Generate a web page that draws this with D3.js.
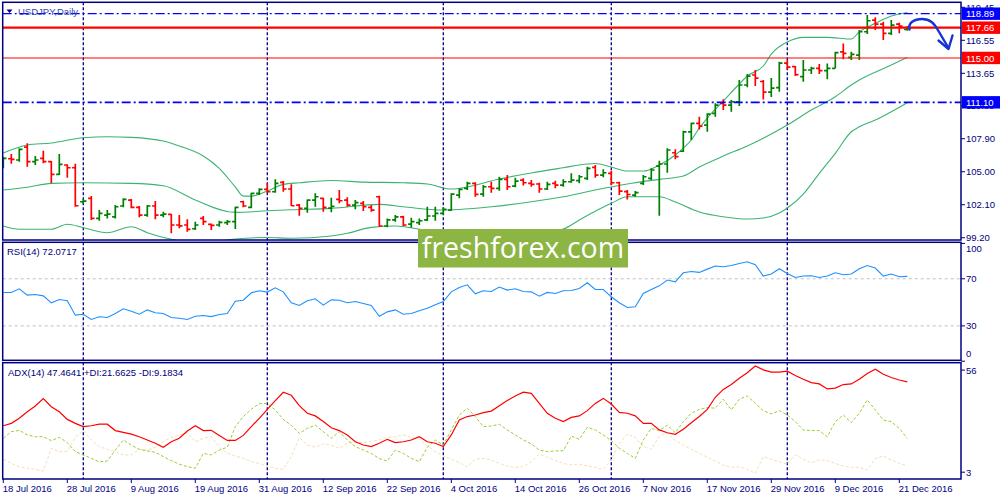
<!DOCTYPE html>
<html>
<head>
<meta charset="utf-8">
<script src="https://cdn.jsdelivr.net/npm/d3@7"></script>
<style>
  body { margin: 0; background: #fff; }
  svg { display: block; font-family: "Liberation Sans", Arial, sans-serif; }
</style>
</head>
<body>
<div class="chart"></div>
<script>
// ---- data ----
const xLabels = ["18 Jul 2016","28 Jul 2016","9 Aug 2016","19 Aug 2016","31 Aug 2016","12 Sep 2016",
  "22 Sep 2016","4 Oct 2016","14 Oct 2016","26 Oct 2016","7 Nov 2016","17 Nov 2016","29 Nov 2016",
  "9 Dec 2016","21 Dec 2016"];
const labelEvery = 8;                       // one date label every 8 bars
const separatorBars = [10, 33, 55, 76, 98]; // first bar of Aug, Sep, Oct, Nov, Dec

const open = [
105.85,106.14,106.03,107.17,105.88,106.18,105.88,104.77,105.59,105.35,
102.36,102.66,100.90,101.19,101.04,101.99,102.51,101.87,101.19,101.99,
101.19,101.26,100.32,100.32,99.99,100.90,100.38,100.32,100.52,100.61,
102.36,101.87,103.10,103.45,103.24,104.07,103.48,102.07,101.78,102.51,
102.66,101.80,102.57,102.51,102.07,102.22,101.87,102.80,100.23,100.76,
101.04,100.40,100.52,100.76,101.11,101.34,101.63,102.95,103.54,103.98,
103.04,103.68,103.54,104.33,103.74,104.27,103.98,103.92,103.48,103.98,
103.83,104.12,104.21,104.42,105.39,104.71,104.86,104.03,103.26,102.95,
103.98,104.42,105.50,105.68,106.67,106.80,108.51,109.25,109.10,110.13,
111.01,110.86,111.15,112.62,113.50,112.93,112.00,112.40,114.55,114.23,
113.35,113.94,114.09,113.88,114.09,115.54,115.05,115.25,117.30,118.33,
117.98,117.16,117.98,117.51];
const high = [
106.32,106.55,107.06,107.50,106.38,106.84,105.94,106.55,105.65,105.70,
102.60,102.86,101.63,101.63,102.07,102.66,102.60,101.99,102.07,102.42,
101.49,101.28,101.19,100.82,100.61,101.11,100.46,100.69,100.76,101.92,
102.45,103.15,103.54,103.98,104.33,104.18,103.89,102.16,102.57,103.10,
102.72,102.72,103.39,102.75,102.51,102.42,102.07,102.89,100.90,101.19,
101.13,100.96,100.90,101.92,101.92,101.87,103.10,103.54,104.12,104.07,
103.83,104.12,104.56,104.71,104.47,104.42,104.27,104.03,104.12,104.21,
104.33,104.86,104.71,105.44,105.59,105.21,105.09,104.12,103.39,103.30,
104.71,105.30,105.97,107.06,106.97,108.60,109.31,109.83,110.13,111.01,
111.36,111.30,113.06,113.59,113.94,113.06,113.23,114.66,114.81,114.29,
114.81,114.23,114.46,114.52,115.54,116.28,115.54,117.45,118.77,118.57,
118.18,118.33,118.09,117.80];
const low = [
105.30,105.70,105.88,105.44,105.59,105.74,103.98,104.71,104.47,101.92,
102.16,100.76,100.69,100.90,100.90,101.87,101.78,100.99,101.04,100.82,
100.99,99.59,100.03,99.73,99.88,100.32,99.88,100.17,100.32,99.96,
101.87,101.78,102.95,103.10,103.15,103.24,101.99,101.13,101.40,101.92,
101.49,101.43,102.22,101.92,101.70,101.55,101.49,100.17,100.11,100.61,
100.23,100.08,100.32,100.67,100.69,101.19,101.57,102.66,103.39,102.80,
102.80,103.15,103.33,103.39,103.63,103.80,103.68,103.15,103.39,103.54,
103.68,104.03,103.98,104.27,104.47,104.51,103.83,102.95,102.57,102.80,
103.83,104.27,101.13,104.91,106.09,106.74,107.79,108.72,108.51,109.83,
110.42,110.27,110.77,112.42,112.53,111.34,111.56,112.03,113.98,113.41,
112.91,113.59,113.59,113.12,114.09,114.88,114.81,114.81,117.10,117.45,
116.57,117.01,117.16,117.39];
const close = [
106.18,106.09,106.97,105.88,106.03,105.88,104.77,105.65,105.35,102.01,
102.42,100.90,101.34,101.28,101.92,102.57,101.87,101.19,101.99,101.19,
101.28,100.32,100.25,99.94,100.32,100.61,100.29,100.55,100.61,101.87,
101.99,103.10,103.45,103.24,103.98,103.48,102.01,101.78,102.51,102.80,
101.87,101.95,102.45,102.07,102.28,101.92,101.63,100.23,100.76,101.04,
100.32,100.61,100.69,101.11,101.34,101.70,103.04,103.45,103.98,103.01,
103.68,103.54,104.33,103.68,104.18,104.03,103.89,103.48,103.89,103.83,
104.12,104.27,104.56,105.30,104.71,104.91,104.03,103.30,103.00,103.17,
104.56,105.15,105.68,106.91,106.32,108.51,109.25,109.01,110.07,110.86,
110.86,111.15,112.62,113.41,113.23,112.00,112.35,114.55,114.20,113.54,
113.94,114.09,113.88,114.09,115.46,115.40,115.32,117.30,118.27,117.98,
117.16,117.89,117.80,117.60];

// Bollinger bands: [bar, price] vertices
const bbUpper = [[0,106.64],[3,107.35],[6,107.52],[10,107.99],[13,108.07],[16,108.02],[20,107.70],
  [22,107.26],[25,106.38],[27,105.30],[29,103.66],[30,102.86],[31,102.86],[33,103.30],[35,103.89],
  [37,104.03],[41,104.23],[45,104.09],[50,104.03],[53,103.92],[56,103.48],[58,103.66],[62,104.36],
  [66,104.89],[70,105.35],[73,105.68],[74,105.72],[76,105.41],[78,105.06],[80,105.06],[82,105.59],
  [84,106.47],[85,107.08],[86,107.79],[87,108.84],[88,109.72],[90,111.21],[92,112.71],[93,113.41],
  [95,114.29],[96,115.34],[98,116.40],[100,116.81],[103,116.81],[106,116.66],[107,117.30],
  [109,118.04],[111,118.68],[113,119.00]];
const bbMiddle = [[0,103.39],[3,103.63],[6,103.98],[10,104.03],[16,103.98],[20,103.77],[24,102.51],
  [29,101.43],[33,101.57],[36,101.66],[41,101.78],[47,102.13],[50,101.92],[55,101.63],[57,101.68],
  [61,101.92],[66,102.36],[70,102.80],[74,103.39],[78,103.92],[82,104.33],[85,104.62],[87,105.41],
  [90,106.38],[93,107.26],[96,108.31],[98,109.10],[101,110.42],[104,111.59],[106,112.62],
  [107,113.06],[111,114.38],[113,115.05]];
const bbLower = [[0,100.23],[2,99.94],[6,99.94],[8,100.38],[10,100.08],[13,99.64],[16,100.17],
  [18,99.64],[21,99.06],[25,98.73],[29,99.09],[33,99.22],[36,99.15],[41,99.35],[43,99.59],
  [46,100.11],[49,100.23],[52,99.94],[55,99.52],[60,99.35],[66,99.52],[70,99.96],[72,100.76],
  [76,102.22],[78,102.80],[82,102.80],[84,102.34],[87,101.46],[90,101.04],[93,100.84],[95,100.93],
  [97,101.37],[98,101.81],[100,103.04],[102,104.86],[104,106.62],[106,108.51],[107,108.95],
  [109,109.54],[111,110.27],[113,111.06]];

const rsi = [
58.4,58.4,61.5,56.1,56.7,55.5,49.6,52.4,51.3,39.1,
39.9,35.4,37.7,37.1,40.5,44.5,42.5,39.9,43.6,41.1,
40.5,37.1,36.5,35.4,38.2,38.8,37.9,39.6,40.5,51.0,
51.8,58.1,59.8,58.7,62.3,58.9,49.6,47.3,51.3,53.0,
47.6,52.1,51.8,49.6,50.7,49.0,47.3,38.2,41.9,43.6,
39.9,40.5,42.8,45.0,47.9,50.7,58.9,62.6,64.9,57.2,
59.8,59.2,63.0,60.4,61.5,59.2,58.9,55.2,58.4,57.5,
59.8,60.1,61.8,66.6,60.9,60.9,54.7,49.6,45.6,46.2,
57.5,60.9,64.0,68.9,67.4,75.1,76.2,75.4,78.2,80.8,
80.2,81.3,83.0,84.5,81.9,72.3,74.0,78.5,74.5,71.1,
72.3,72.6,71.1,72.3,75.1,73.4,74.0,78.5,81.3,79.1,
72.3,74.0,71.7,72.07];

const adx = [
27.4,28.5,30.8,33.8,36.4,39.8,36.1,33.8,30.3,28.5,
27.0,27.4,28.1,28.1,25.2,24.4,23.6,22.4,20.9,19.4,
17.6,20.1,21.7,25.0,27.4,25.2,25.3,23.0,20.7,20.7,
23.0,27.0,30.8,34.9,38.9,42.7,41.3,36.6,33.1,31.9,
29.3,26.5,25.2,23.2,20.1,18.6,17.9,19.4,21.2,19.7,
20.1,20.9,22.4,20.1,19.4,17.9,23.2,30.0,31.6,32.3,
33.4,34.1,36.5,38.9,41.0,42.7,42.2,37.6,33.1,30.8,
29.3,31.2,31.9,34.3,37.6,39.9,37.3,33.5,33.1,31.9,
28.5,28.5,25.5,24.2,23.5,25.8,28.8,31.6,34.9,40.4,
44.0,46.2,49.1,51.6,54.7,52.9,51.9,51.9,52.3,50.3,
48.6,47.1,46.5,44.2,44.6,46.2,46.5,48.6,51.3,53.2,
50.9,49.4,48.3,47.46];
const plusDi = [
21.7,24.7,25.3,23.2,22.4,22.4,20.6,22.1,19.7,15.6,
14.1,12.5,10.9,11.3,16.3,20.9,18.6,16.6,15.9,15.3,
13.3,11.5,9.9,8.7,8.0,14.8,14.1,16.3,17.6,27.0,
31.6,34.9,37.5,37.6,34.6,30.3,27.6,23.9,26.2,27.7,
24.7,21.7,24.7,20.9,17.9,16.3,14.8,12.4,11.3,16.3,
14.8,12.5,11.0,17.6,20.9,18.6,25.5,32.3,35.4,31.6,
27.0,27.3,28.1,25.5,23.2,20.9,19.1,16.3,15.6,15.9,
16.0,22.7,21.2,26.7,25.5,23.2,20.6,17.1,14.8,12.5,
20.9,26.2,25.2,27.7,24.2,29.3,33.1,34.9,35.7,35.4,
39.5,34.6,39.5,41.0,37.6,34.3,32.8,34.3,32.3,29.3,
25.5,25.2,25.2,22.4,29.3,32.3,28.8,33.1,39.2,34.6,
30.0,29.3,26.2,21.66];
const minusDi = [
12.1,10.2,8.7,8.0,7.5,6.7,17.1,15.6,15.6,22.1,
25.2,20.9,17.9,16.6,15.6,14.1,14.1,16.6,16.3,17.6,
20.1,22.1,23.2,24.2,20.1,21.7,22.4,17.6,14.8,13.6,
12.5,11.0,10.2,9.0,8.0,7.5,13.3,22.1,18.6,17.6,
19.1,18.6,17.1,19.4,20.1,19.7,20.3,20.9,22.1,22.4,
23.2,22.1,21.2,18.2,15.6,13.6,12.1,10.5,8.7,12.1,
12.5,11.8,10.2,9.0,8.4,8.7,11.0,14.4,13.0,11.5,
10.2,9.5,9.9,9.0,8.4,7.5,11.8,19.4,23.6,22.1,
17.9,16.6,22.7,24.2,20.6,18.6,16.6,14.8,13.0,11.3,
9.3,8.4,8.7,7.5,5.7,13.3,12.1,11.0,9.8,14.1,
12.1,10.5,11.8,11.5,10.2,9.0,8.4,8.4,7.2,12.4,
13.6,11.8,10.2,9.18];

const priceTicks = [119.45, 116.55, 113.65, 110.80, 107.90, 105.00, 102.10, 99.20];
const rsiTicks = [100, 70, 30, 0];
const rsiLevels = [70, 30];
const adxTicks = [56, 3];
const levelValues = [118.89, 117.66, 115.00, 111.10]; // horizontal lines drawn on the chart

// ---- layout ----
const width = 1000, height = 500;
const left = 2.7, right = 961;
const main = {top: 2.3, bottom: 240};
const rsiP = {top: 242.3, bottom: 360.3};
const adxP = {top: 362.7, bottom: 479};
const navy = "#000080";

const svg = d3.select('.chart').append('svg')
  .attr('width', width).attr('height', height)
  .attr('viewBox', [0, 0, width, height]);

const x = d3.scaleLinear().domain([0, open.length - 1]).range([3.3, 3.3 + 8 * (open.length - 1)]);
const yPrice = d3.scaleLinear().domain([99.0, 119.89]).range([main.bottom, main.top]);
const yRsi = d3.scaleLinear().domain([0, 100]).range([361.2, 243.45]);
const yAdx = d3.scaleLinear().domain([3, 56]).range([479.2, 363.1]);

// clip paths for each panel
const defs = svg.append('defs');
[['clipMain', main], ['clipRsi', rsiP], ['clipAdx', adxP]].forEach(([id, p]) => {
  defs.append('clipPath').attr('id', id).append('rect')
    .attr('x', left).attr('y', p.top).attr('width', right - left).attr('height', p.bottom - p.top);
});

// --- period separators --- //
svg.append('g').selectAll('line')
  .data(separatorBars)
  .join('line')
  .attr('x1', d => x(d)).attr('x2', d => x(d))
  .attr('y1', main.top).attr('y2', adxP.bottom)
  .attr('stroke', navy).attr('stroke-width', 1.3)
  .attr('stroke-dasharray', '3,2');

// --- MAIN PANEL --- //
const gMain = svg.append('g').attr('clip-path', 'url(#clipMain)');

const bandLine = d3.line()
  .x(d => x(d[0]))
  .y(d => yPrice(d[1]))
  .curve(d3.curveMonotoneX);

gMain.selectAll('path.band')
  .data([bbUpper, bbMiddle, bbLower])
  .join('path')
  .attr('class', 'band')
  .attr('d', bandLine)
  .attr('fill', 'none')
  .attr('stroke', '#3cb371')
  .attr('stroke-width', 1.1);

// OHLC bars
const bars = d3.range(open.length);
gMain.selectAll('path.bar')
  .data(bars)
  .join('path')
  .attr('class', 'bar')
  .attr('d', i => {
    const xi = x(i);
    return `M${xi},${yPrice(high[i])}V${yPrice(low[i])}` +
           `M${xi - 3.2},${yPrice(open[i])}H${xi}` +
           `M${xi},${yPrice(close[i])}H${xi + 3.2}`;
  })
  .attr('fill', 'none')
  .attr('stroke', i => close[i] >= open[i] ? '#008000' : '#ff0000')
  .attr('stroke-width', 1.7);

// horizontal levels
const levelStyle = [
  {color: '#0000ff', w: 1.2, dash: '9,3,2,3'},
  {color: '#ff0000', w: 2.2, dash: null},
  {color: '#ff0000', w: 1.1, dash: null},
  {color: '#0000ff', w: 1.8, dash: '9,3,2,3'}
];
gMain.selectAll('line.level')
  .data(levelValues)
  .join('line')
  .attr('class', 'level')
  .attr('x1', left).attr('x2', right)
  .attr('y1', d => yPrice(d)).attr('y2', d => yPrice(d))
  .attr('stroke', (d, i) => levelStyle[i].color)
  .attr('stroke-width', (d, i) => levelStyle[i].w)
  .attr('stroke-dasharray', (d, i) => levelStyle[i].dash);

// --- RSI PANEL --- //
const gRsi = svg.append('g').attr('clip-path', 'url(#clipRsi)');
gRsi.selectAll('line.lvl')
  .data(rsiLevels)
  .join('line')
  .attr('x1', left).attr('x2', right)
  .attr('y1', d => yRsi(d)).attr('y2', d => yRsi(d))
  .attr('stroke', '#c0c0c0').attr('stroke-dasharray', '3,3');

gRsi.append('path')
  .datum(rsi)
  .attr('d', d3.line().x((d, i) => x(i)).y(d => yRsi(d)))
  .attr('fill', 'none')
  .attr('stroke', '#1e90ff')
  .attr('stroke-width', 1.1);

// --- ADX PANEL --- //
const gAdx = svg.append('g').attr('clip-path', 'url(#clipAdx)');
const adxLine = d3.line().x((d, i) => x(i)).y(d => yAdx(d));
gAdx.append('path').datum(minusDi)
  .attr('d', adxLine).attr('fill', 'none')
  .attr('stroke', '#f5deb3').attr('stroke-width', 1).attr('stroke-dasharray', '3,2');
gAdx.append('path').datum(plusDi)
  .attr('d', adxLine).attr('fill', 'none')
  .attr('stroke', '#9acd32').attr('stroke-width', 1).attr('stroke-dasharray', '3,2');
gAdx.append('path').datum(adx)
  .attr('d', adxLine).attr('fill', 'none')
  .attr('stroke', '#ff0000').attr('stroke-width', 1.2);

// --- panel borders --- //
[main, rsiP, adxP].forEach(p => {
  svg.append('rect')
    .attr('x', left).attr('y', p.top)
    .attr('width', right - left).attr('height', p.bottom - p.top)
    .attr('fill', 'none').attr('stroke', navy).attr('stroke-width', 1.5);
});

// --- right axes --- //
const axisG = svg.append('g').attr('fill', navy).attr('font-size', 9.5);
const fmt2 = d3.format('.2f');

axisG.selectAll('text.pt')
  .data(priceTicks)
  .join('text')
  .attr('x', 966).attr('y', d => yPrice(d) + 3.5)
  .text(d => fmt2(d));
axisG.selectAll('line.pt')
  .data(priceTicks)
  .join('line')
  .attr('x1', right).attr('x2', right + 4)
  .attr('y1', d => yPrice(d)).attr('y2', d => yPrice(d))
  .attr('stroke', navy);

axisG.selectAll('text.rt')
  .data(rsiTicks)
  .join('text')
  .attr('x', 966)
  .attr('y', d => yRsi(d) + (d === 100 ? 9 : d === 0 ? -4 : 3.5))
  .text(d => d);
axisG.selectAll('line.rt')
  .data(rsiTicks)
  .join('line')
  .attr('x1', right).attr('x2', right + 4)
  .attr('y1', d => yRsi(d)).attr('y2', d => yRsi(d))
  .attr('stroke', navy);

axisG.selectAll('text.at')
  .data(adxTicks)
  .join('text')
  .attr('x', 966)
  .attr('y', d => yAdx(d) + (d === 56 ? 10.5 : -3))
  .text(d => d);
axisG.selectAll('line.at')
  .data(adxTicks)
  .join('line')
  .attr('x1', right).attr('x2', right + 4)
  .attr('y1', d => yAdx(d) + (d === 56 ? 7 : -7)).attr('y2', d => yAdx(d) + (d === 56 ? 7 : -7))
  .attr('stroke', navy);

// level price boxes on the axis
const boxes = svg.append('g').selectAll('g')
  .data(levelValues)
  .join('g')
  .attr('transform', d => `translate(${right + 1},${yPrice(d)})`);
boxes.append('rect')
  .attr('x', 0).attr('y', -6.2).attr('width', 38).attr('height', 12.4)
  .attr('fill', (d, i) => levelStyle[i].color);
boxes.append('text')
  .attr('x', 4).attr('y', 3.6)
  .attr('fill', '#fff').attr('font-size', 9.5)
  .text(d => fmt2(d));

// --- time axis --- //
const timeG = svg.append('g').attr('fill', navy).attr('font-size', 9.5);
timeG.selectAll('text')
  .data(xLabels)
  .join('text')
  .attr('x', (d, i) => x(i * labelEvery) - 0.6)
  .attr('y', 492)
  .text(d => d);
timeG.selectAll('line')
  .data(xLabels)
  .join('line')
  .attr('x1', (d, i) => x(i * labelEvery)).attr('x2', (d, i) => x(i * labelEvery))
  .attr('y1', adxP.bottom).attr('y2', adxP.bottom + 4)
  .attr('stroke', navy);

// --- panel titles --- //
svg.append('path').attr('d', 'M6.5,9.5 L12.5,9.5 L9.5,13 Z').attr('fill', navy);
svg.append('text').attr('x', 18).attr('y', 14.5)
  .attr('font-size', 9.5).attr('fill', '#3246b8').text('USDJPY,Daily');
svg.append('text').attr('x', 7).attr('y', 255)
  .attr('font-size', 9.5).attr('fill', navy).text('RSI(14) 72.0717');
svg.append('text').attr('x', 8).attr('y', 375.5)
  .attr('font-size', 9.5).attr('fill', navy).text('ADX(14) 47.4641 +DI:21.6625 -DI:9.1834');

// --- watermark --- //
svg.append('rect').attr('x', 418).attr('y', 229).attr('width', 210).attr('height', 38.5)
  .attr('fill', '#8db543');
svg.append('text').attr('x', 523).attr('y', 258)
  .attr('text-anchor', 'middle')
  .attr('font-family', '"Open Sans", "Noto Sans", sans-serif')
  .attr('font-size', 28.5).attr('fill', '#fff')
  .text('freshforex.com');

// --- hand-drawn forecast arrow --- //
svg.append('path')
  .attr('d', 'M909.5,29.5 C908,23 914,19 922,19 C930,19 934,23 938.5,31 L948.5,48')
  .attr('fill', 'none').attr('stroke', '#1733d6').attr('stroke-width', 2.4)
  .attr('stroke-linecap', 'round');
svg.append('path')
  .attr('d', 'M938.5,40.5 L948.5,49 L952.5,35.5')
  .attr('fill', 'none').attr('stroke', '#1733d6').attr('stroke-width', 2.4)
  .attr('stroke-linecap', 'round').attr('stroke-linejoin', 'round');
</script>
</body>
</html>
